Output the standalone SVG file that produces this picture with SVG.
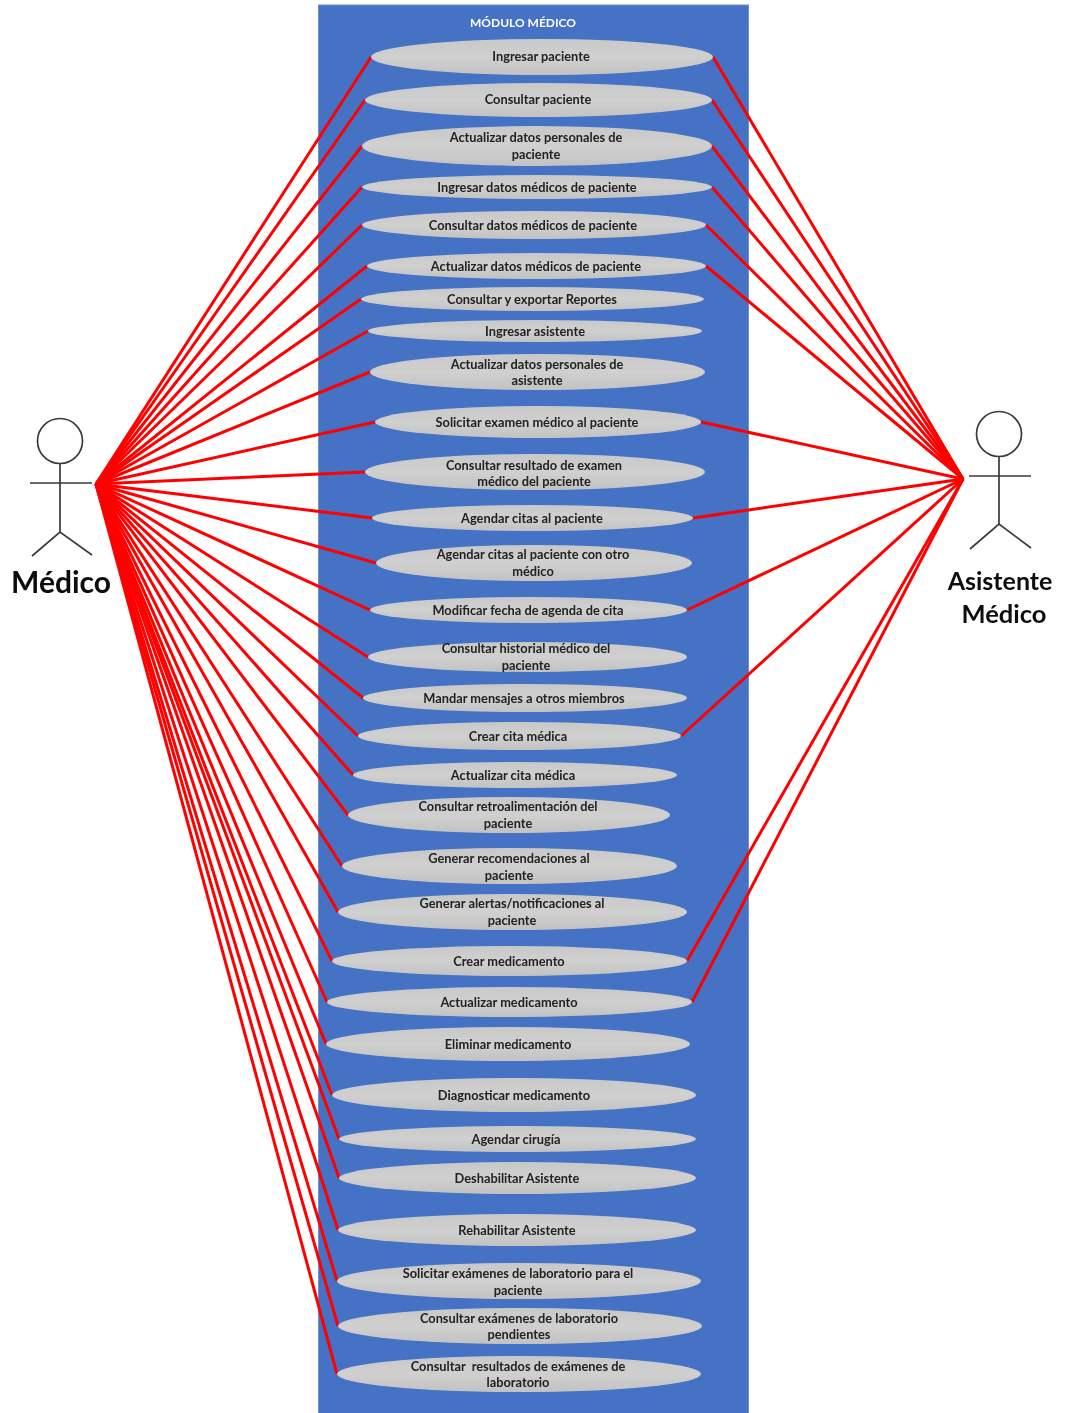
<svg xmlns="http://www.w3.org/2000/svg" width="1065" height="1413" viewBox="0 0 1065 1413">
<style>
.u{fill:url(#g)}
.t{font-family:"Lato","Open Sans","Liberation Sans",sans-serif;font-size:12.8px;font-weight:700;fill:#222;text-anchor:middle;transform:translateY(.1px)}
.a{font-family:"Lato","Open Sans","Liberation Sans",sans-serif;font-size:30px;font-weight:700;fill:#111;text-anchor:middle}
.h{font-family:"Lato","Open Sans","Liberation Sans",sans-serif;font-size:12px;font-weight:700;fill:#fff;text-anchor:middle}
.c line{stroke:#f00;stroke-width:3}
.s{fill:none;stroke:#3a3a3a;stroke-width:1.7}
</style>
<defs>
<linearGradient id="g" x1="0" y1="0" x2="0" y2="1"><stop offset="0" stop-color="#c8c8c8"/><stop offset=".5" stop-color="#d0d0d0"/><stop offset="1" stop-color="#c2c2c2"/></linearGradient>
<filter id="b" x="-5%" y="-5%" width="110%" height="110%"><feGaussianBlur stdDeviation="0.45"/></filter>
</defs>
<rect width="1065" height="1413" fill="#fff"/>
<g filter="url(#b)">
<g id="modulo"><rect x="318.500" y="5" width="430" height="1410" fill="#4472c4" stroke="#6f8fc9" stroke-width="1"/><text class="h" x="523" y="27">MÓDULO MÉDICO</text></g>
<g id="conectores" class="c">
<line x1="96" y1="484" x2="371" y2="57"/><line x1="96" y1="484" x2="365" y2="100"/><line x1="96" y1="484" x2="362" y2="146"/><line x1="96" y1="484" x2="362" y2="187"/><line x1="96" y1="484" x2="362" y2="225"/><line x1="96" y1="484" x2="367" y2="266"/><line x1="96" y1="484" x2="361" y2="299"/><line x1="96" y1="484" x2="368" y2="331"/><line x1="96" y1="484" x2="370" y2="372"/><line x1="96" y1="484" x2="375" y2="422"/><line x1="96" y1="484" x2="365" y2="472"/><line x1="96" y1="484" x2="372" y2="518"/><line x1="96" y1="484" x2="376" y2="563"/><line x1="96" y1="484" x2="370" y2="610"/><line x1="96" y1="484" x2="368" y2="657"/><line x1="96" y1="484" x2="363" y2="698"/><line x1="96" y1="484" x2="358" y2="736"/><line x1="96" y1="484" x2="353" y2="775"/><line x1="96" y1="484" x2="348" y2="815"/><line x1="96" y1="484" x2="342" y2="866"/><line x1="96" y1="484" x2="338" y2="912"/><line x1="96" y1="484" x2="332" y2="961"/><line x1="96" y1="484" x2="327" y2="1002"/><line x1="96" y1="484" x2="326" y2="1044"/><line x1="96" y1="484" x2="332" y2="1095"/><line x1="96" y1="484" x2="339" y2="1139"/><line x1="96" y1="484" x2="339" y2="1178"/><line x1="96" y1="484" x2="338" y2="1230"/><line x1="96" y1="484" x2="337" y2="1281"/><line x1="96" y1="484" x2="338" y2="1326"/><line x1="96" y1="484" x2="337" y2="1374"/>
<line x1="963" y1="479" x2="713" y2="57"/><line x1="963" y1="479" x2="712" y2="100"/><line x1="963" y1="479" x2="712" y2="146"/><line x1="963" y1="479" x2="712" y2="187"/><line x1="963" y1="479" x2="706" y2="225"/><line x1="963" y1="479" x2="706" y2="266"/><line x1="963" y1="479" x2="701" y2="422"/><line x1="963" y1="479" x2="693" y2="518"/><line x1="963" y1="479" x2="687" y2="610"/><line x1="963" y1="479" x2="681" y2="736"/><line x1="963" y1="479" x2="687" y2="961"/><line x1="963" y1="479" x2="692" y2="1002"/>
</g>
<g id="actor-medico"><circle class="s" cx="60" cy="441" r="22.500"/><path class="s" d="M60 464V532M30 483H92M32 556L60 532L92 555"/><text class="a" x="61" y="593">Médico</text></g>
<g id="actor-asistente"><circle class="s" cx="999" cy="434" r="22.500"/><path class="s" d="M999 457V524M969 476H1031M970 549L999 524L1031 548"/><text class="a" x="1000" y="590" style="font-size:25px">Asistente</text><text class="a" x="1004" y="623" style="font-size:25.500px">Médico</text></g>
<g id="n1"><ellipse class="u" cx="542" cy="57" rx="171" ry="18"/><text class="t" x="541" y="61">Ingresar paciente</text></g>
<g id="n2"><ellipse class="u" cx="538.500" cy="100" rx="173.500" ry="17"/><text class="t" x="538" y="104">Consultar paciente</text></g>
<g id="n3"><ellipse class="u" cx="537" cy="146" rx="175" ry="20"/><text class="t" x="536" y="142">Actualizar datos personales de</text><text class="t" x="536" y="158.500">paciente</text></g>
<g id="n4"><ellipse class="u" cx="537" cy="187" rx="175" ry="12"/><text class="t" x="537" y="192">Ingresar datos médicos de paciente</text></g>
<g id="n5"><ellipse class="u" cx="534" cy="225" rx="172" ry="14"/><text class="t" x="533" y="230">Consultar datos médicos de paciente</text></g>
<g id="n6"><ellipse class="u" cx="536.500" cy="266" rx="169.500" ry="13"/><text class="t" x="536" y="271">Actualizar datos médicos de paciente</text></g>
<g id="n7"><ellipse class="u" cx="532.500" cy="299" rx="171.500" ry="12"/><text class="t" x="532" y="304">Consultar y exportar Reportes</text></g>
<g id="n8"><ellipse class="u" cx="535" cy="331" rx="167" ry="11"/><text class="t" x="535" y="336">Ingresar asistente</text></g>
<g id="n9"><ellipse class="u" cx="537.500" cy="372" rx="167.500" ry="18"/><text class="t" x="537" y="368.500">Actualizar datos personales de</text><text class="t" x="537" y="385">asistente</text></g>
<g id="n10"><ellipse class="u" cx="538" cy="422" rx="163" ry="16"/><text class="t" x="537" y="427">Solicitar examen médico al paciente</text></g>
<g id="n11"><ellipse class="u" cx="535" cy="472" rx="170" ry="18"/><text class="t" x="534" y="469.500">Consultar resultado de examen</text><text class="t" x="534" y="486">médico del paciente</text></g>
<g id="n12"><ellipse class="u" cx="532.500" cy="518" rx="160.500" ry="13"/><text class="t" x="532" y="523">Agendar citas al paciente</text></g>
<g id="n13"><ellipse class="u" cx="534" cy="563" rx="158" ry="18"/><text class="t" x="533" y="559">Agendar citas al paciente con otro</text><text class="t" x="533" y="576">médico</text></g>
<g id="n14"><ellipse class="u" cx="528.500" cy="610" rx="158.500" ry="13"/><text class="t" x="528" y="615">Modificar fecha de agenda de cita</text></g>
<g id="n15"><ellipse class="u" cx="527.500" cy="657" rx="159.500" ry="15"/><text class="t" x="526" y="653">Consultar historial médico del</text><text class="t" x="526" y="670">paciente</text></g>
<g id="n16"><ellipse class="u" cx="525" cy="698" rx="162" ry="14"/><text class="t" x="524" y="703">Mandar mensajes a otros miembros</text></g>
<g id="n17"><ellipse class="u" cx="519.500" cy="736" rx="161.500" ry="14"/><text class="t" x="518" y="740.500">Crear cita médica</text></g>
<g id="n18"><ellipse class="u" cx="515" cy="775" rx="162" ry="13"/><text class="t" x="513" y="779.500">Actualizar cita médica</text></g>
<g id="n19"><ellipse class="u" cx="509" cy="815" rx="161" ry="18"/><text class="t" x="508" y="811">Consultar retroalimentación del</text><text class="t" x="508" y="828">paciente</text></g>
<g id="n20"><ellipse class="u" cx="509.500" cy="866" rx="167.500" ry="18"/><text class="t" x="509" y="863">Generar recomendaciones al</text><text class="t" x="509" y="880">paciente</text></g>
<g id="n21"><ellipse class="u" cx="512.500" cy="912" rx="174.500" ry="18"/><text class="t" x="512" y="908">Generar alertas/notificaciones al</text><text class="t" x="512" y="925">paciente</text></g>
<g id="n22"><ellipse class="u" cx="509.500" cy="961" rx="177.500" ry="15"/><text class="t" x="509" y="965.500">Crear medicamento</text></g>
<g id="n23"><ellipse class="u" cx="509.500" cy="1002" rx="182.500" ry="15"/><text class="t" x="509" y="1006.500">Actualizar medicamento</text></g>
<g id="n24"><ellipse class="u" cx="508" cy="1044" rx="182" ry="17"/><text class="t" x="508" y="1048.500">Eliminar medicamento</text></g>
<g id="n25"><ellipse class="u" cx="514" cy="1095" rx="182" ry="17"/><text class="t" x="514" y="1100">Diagnosticar medicamento</text></g>
<g id="n26"><ellipse class="u" cx="517.500" cy="1139" rx="178.500" ry="13"/><text class="t" x="516" y="1143.500">Agendar cirugía</text></g>
<g id="n27"><ellipse class="u" cx="517.500" cy="1178" rx="178.500" ry="16"/><text class="t" x="517" y="1182.500">Deshabilitar Asistente</text></g>
<g id="n28"><ellipse class="u" cx="517" cy="1230" rx="179" ry="16"/><text class="t" x="517" y="1234.500">Rehabilitar Asistente</text></g>
<g id="n29"><ellipse class="u" cx="519" cy="1281" rx="182" ry="18"/><text class="t" x="518" y="1278">Solicitar exámenes de laboratorio para el</text><text class="t" x="518" y="1295">paciente</text></g>
<g id="n30"><ellipse class="u" cx="520" cy="1326" rx="182" ry="18"/><text class="t" x="519" y="1323">Consultar exámenes de laboratorio</text><text class="t" x="519" y="1339">pendientes</text></g>
<g id="n31"><ellipse class="u" cx="519" cy="1374" rx="182" ry="18"/><text class="t" x="518" y="1371" xml:space="preserve">Consultar  resultados de exámenes de</text><text class="t" x="518" y="1387">laboratorio</text></g>
</g>
</svg>
